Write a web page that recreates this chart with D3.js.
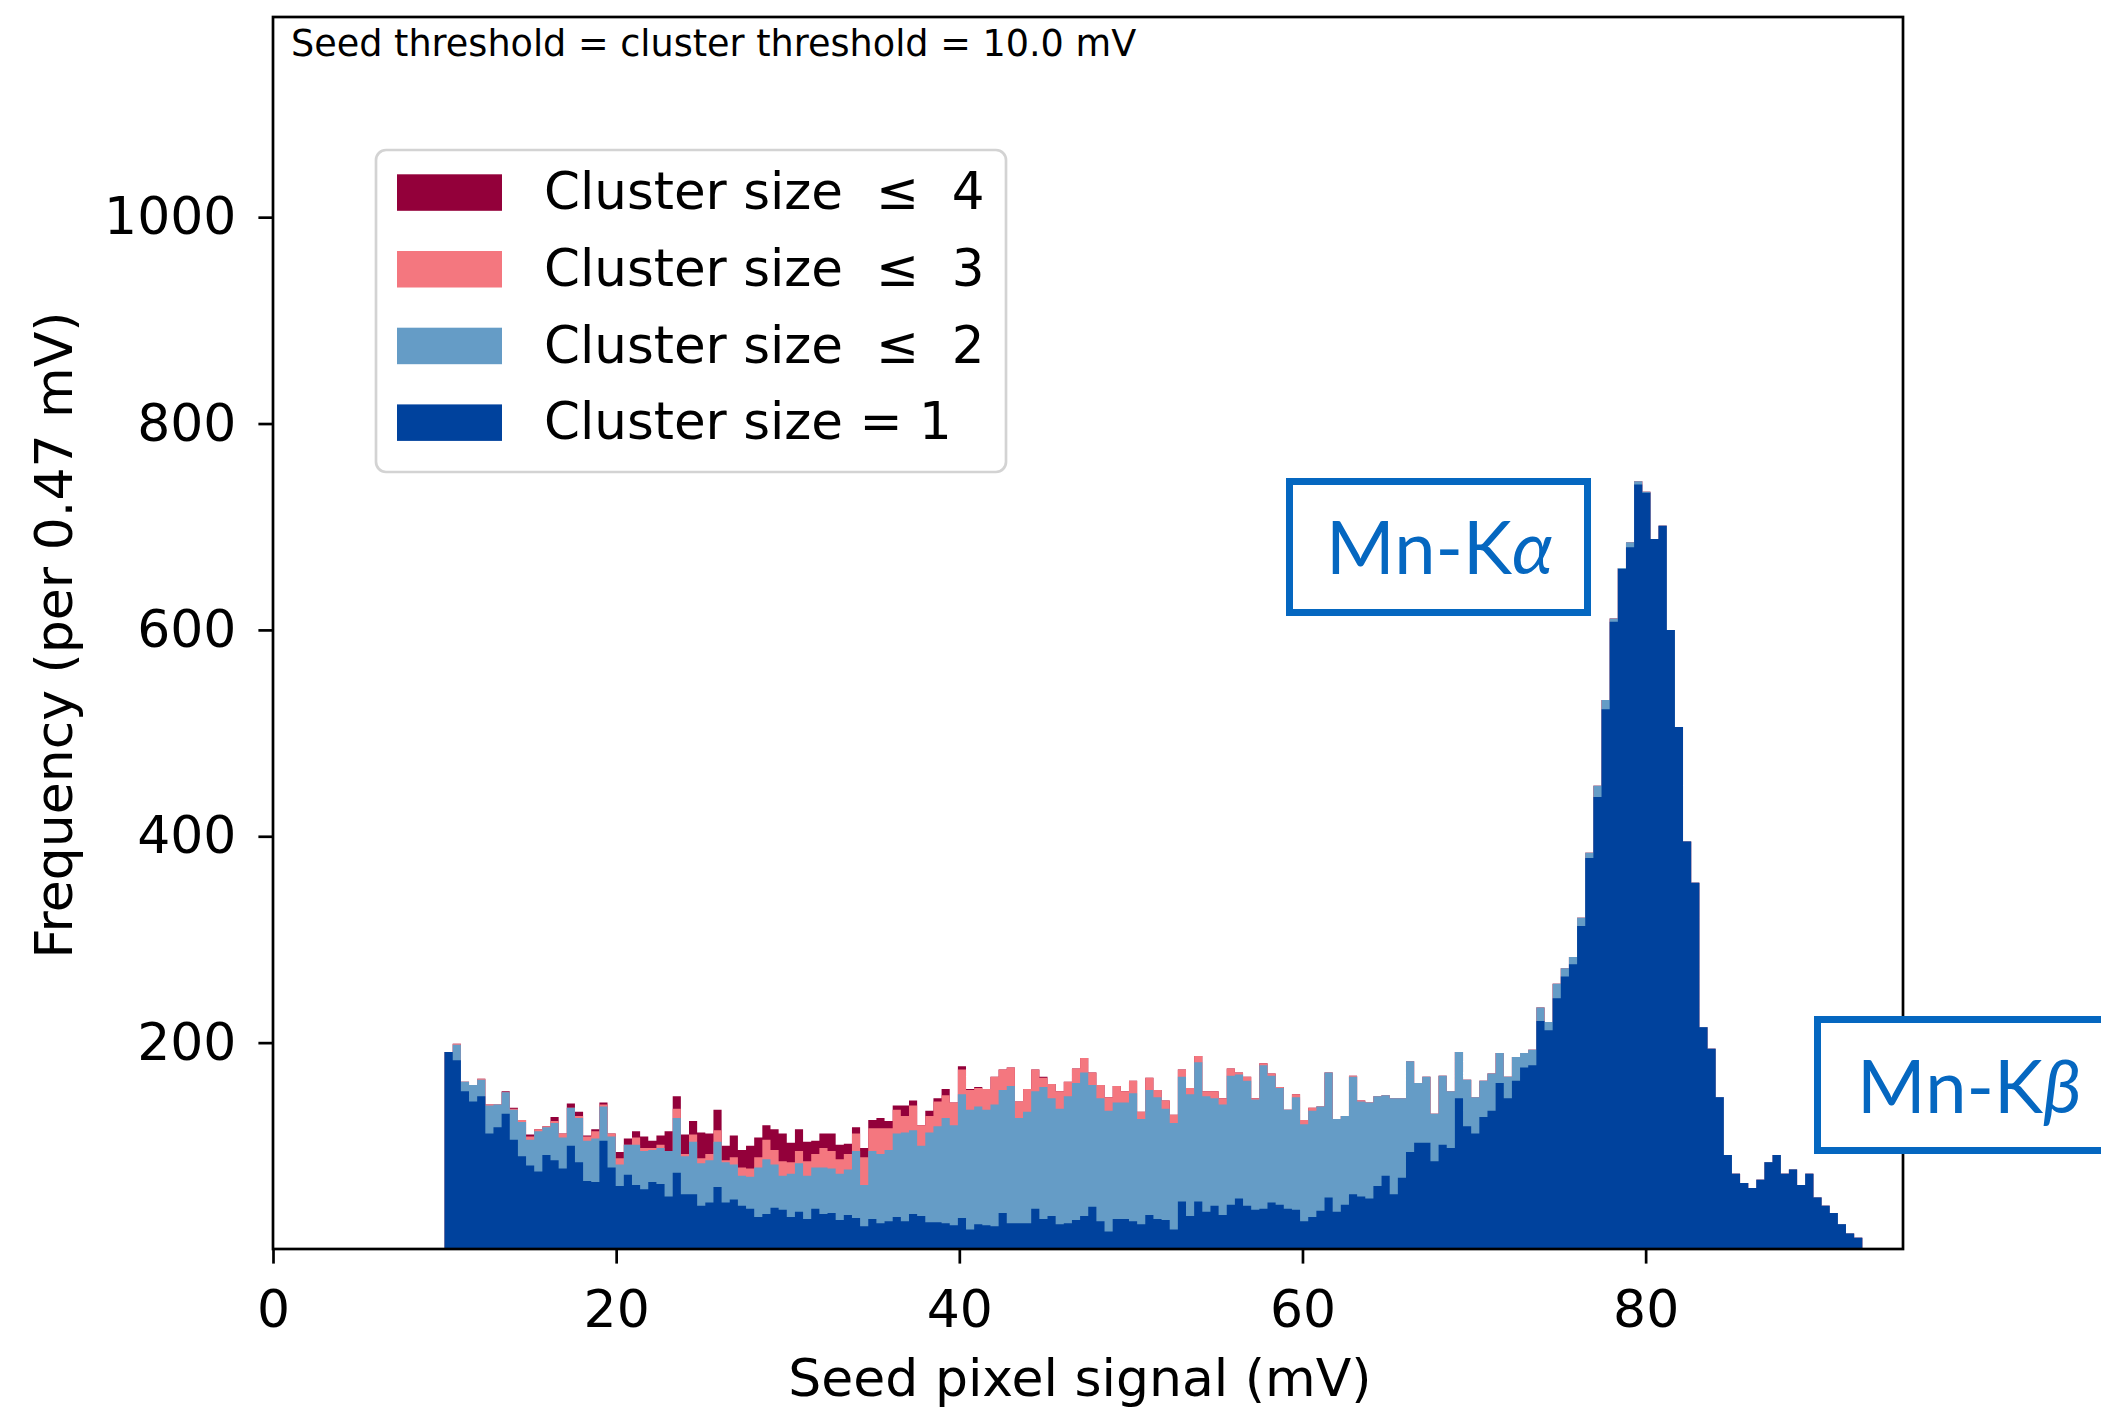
<!DOCTYPE html>
<html>
<head>
<meta charset="utf-8">
<script src="https://cdn.jsdelivr.net/npm/d3@7"></script>
<style>
  body { margin: 0; background: #fff; }
  text { font-family: "DejaVu Sans", sans-serif; }
</style>
</head>
<body>
<div id="chart"></div>
<script>
// Histogram binning (mV): 179 bins between the threshold and 95 mV
const binStart = 10;
const binEnd = 95;
const binCount = 179;

const xTicks = [0, 20, 40, 60, 80];
const yTicks = [200, 400, 600, 800, 1000];

// Counts per bin
const size1 = [
  191,183,153,143,148,112,118,131,106,90,
  81,75,91,86,78,100,84,66,65,105,
  79,61,72,62,58,65,63,51,74,53,
  53,42,45,60,45,48,42,39,31,34,
  40,38,31,36,29,39,34,35,28,33,
  30,22,29,25,27,31,27,34,32,26,
  26,25,23,30,19,24,23,22,35,25,
  25,25,39,29,32,24,25,28,32,41,
  27,17,29,29,27,24,33,29,28,19,
  46,32,46,36,42,33,43,49,42,38,
  39,45,43,39,38,27,31,37,50,36,
  43,53,51,49,61,71,53,69,94,103,
  103,85,101,98,146,119,112,128,134,161,
  146,163,176,178,221,212,243,264,276,313,
  379,438,523,608,659,680,741,733,688,701,
  600,506,395,355,215,194,147,91,73,64,
  59,67,84,91,73,77,62,73,50,42,
  35,24,15,11,1,0,1,0,0
];

const sizeLe2 = [
  191,198,162,159,164,139,140,152,135,123,
  106,114,118,122,108,137,127,105,107,138,
  109,82,101,101,95,96,98,95,127,90,
  104,83,86,104,84,82,71,70,79,87,
  82,71,73,83,71,79,79,78,73,77,
  95,62,95,92,96,112,113,115,100,113,
  119,127,120,150,135,138,135,140,154,158,
  127,133,153,157,146,136,148,161,171,159,
  146,134,142,142,151,126,154,147,136,122,
  167,150,181,148,146,140,168,169,163,145,
  178,168,156,135,147,121,134,138,171,126,
  129,167,143,142,148,149,146,146,182,161,
  167,131,168,153,191,164,147,163,170,190,
  167,186,190,193,234,220,257,272,283,321,
  384,449,532,611,660,685,744,734,688,701,
  600,506,395,355,215,194,147,91,73,64,
  59,67,84,91,73,77,62,73,50,42,
  35,24,15,11,1,0,1,0,0
];

const sizeLe3 = [
  191,199,162,159,165,140,140,152,136,125,
  109,116,119,124,112,137,129,109,114,140,
  112,88,101,108,98,98,101,95,136,92,
  111,88,92,115,86,89,79,78,89,106,
  96,85,84,95,85,92,98,95,87,92,
  112,89,117,117,117,135,129,139,120,129,
  143,149,142,174,154,156,155,167,174,176,
  143,155,174,166,160,153,162,175,185,171,
  159,147,158,153,163,133,166,154,144,130,
  174,156,187,153,153,146,175,171,167,146,
  180,170,157,135,150,125,137,138,171,126,
  129,168,144,142,148,149,146,146,182,161,
  167,131,168,153,191,164,147,163,170,190,
  167,186,190,193,234,220,257,272,283,321,
  384,449,532,611,660,685,744,734,688,701,
  600,506,395,355,215,194,147,91,73,64,
  59,67,84,91,73,77,62,73,50,42,
  35,24,15,11,1,0,1,0,0
];

const sizeLe4 = [
  191,199,162,159,165,140,140,153,137,125,
  111,116,119,128,112,141,133,110,116,142,
  112,94,107,114,109,105,110,114,148,111,
  124,113,112,135,100,110,96,100,108,120,
  116,112,103,116,104,105,112,112,101,102,
  118,98,125,127,124,139,139,144,120,134,
  146,155,142,177,155,157,155,167,174,176,
  143,155,174,167,160,153,162,175,185,171,
  159,147,158,153,163,133,166,154,144,130,
  174,156,187,153,153,146,175,171,167,146,
  180,170,157,135,150,125,137,138,171,126,
  129,168,144,142,148,149,146,146,182,161,
  167,131,168,153,191,164,147,163,170,190,
  167,186,190,193,234,220,257,272,283,321,
  384,449,532,611,660,685,744,734,688,701,
  600,506,395,355,215,194,147,91,73,64,
  59,67,84,91,73,77,62,73,50,42,
  35,24,15,11,1,0,1,0,0
];

// drawn back to front, the legend lists them in the same order
const series = [
  { label: "Cluster size  \u2264  4", color: "#93003a", counts: sizeLe4 },
  { label: "Cluster size  \u2264  3", color: "#f4777f", counts: sizeLe3 },
  { label: "Cluster size  \u2264  2", color: "#659cc6", counts: sizeLe2 },
  { label: "Cluster size = 1", color: "#00429d", counts: size1 }
];

function drawChart() {
    const W = 2101, H = 1414;
    const plot = { left: 273, right: 1903, top: 17, bottom: 1249 };

    const svg = d3.select("#chart").append("svg")
        .attr("width", W)
        .attr("height", H)
        .style("display", "block");

    svg.append("rect").attr("width", W).attr("height", H).attr("fill", "#fff");

    const x = d3.scaleLinear().domain([0, 95]).range([plot.left, plot.right]);
    const y = d3.scaleLinear().domain([0, 1194]).range([plot.bottom, plot.top]);

    const binWidth = (binEnd - binStart) / binCount;
    const area = d3.area()
        .x(d => x(d[0]))
        .y0(y(0))
        .y1(d => y(d[1]))
        .curve(d3.curveStepAfter);

    // one step-filled histogram per series, overlapping
    series.forEach(s => {
        const pts = s.counts.map((c, i) => [binStart + i * binWidth, c]);
        pts.push([binEnd, s.counts[s.counts.length - 1]]);
        svg.append("path")
            .datum(pts)
            .attr("fill", s.color)
            .attr("d", area);
    });

    // axes
    const xAxis = d3.axisBottom(x).tickValues(xTicks).tickSize(14.6).tickPadding(26).tickFormat(d3.format("d"));
    const yAxis = d3.axisLeft(y).tickValues(yTicks).tickSize(14.6).tickPadding(22).tickFormat(d3.format("d"));

    const gx = svg.append("g").attr("transform", `translate(0,${plot.bottom})`).call(xAxis);
    const gy = svg.append("g").attr("transform", `translate(${plot.left},0)`).call(yAxis);
    [gx, gy].forEach(g => {
        g.select(".domain").remove();
        g.selectAll(".tick line").attr("stroke", "#000").attr("stroke-width", 2.7);
        g.selectAll(".tick text")
            .attr("fill", "#000")
            .style("font-family", "'DejaVu Sans', sans-serif")
            .style("font-size", "52px");
    });

    // frame
    svg.append("rect")
        .attr("x", plot.left).attr("y", plot.top)
        .attr("width", plot.right - plot.left).attr("height", plot.bottom - plot.top)
        .attr("fill", "none").attr("stroke", "#000").attr("stroke-width", 2.7);

    // axis labels
    svg.append("text")
        .attr("x", 1080).attr("y", 1396)
        .attr("text-anchor", "middle")
        .style("font-size", "52px")
        .text("Seed pixel signal (mV)");

    svg.append("text")
        .attr("transform", `translate(72,${(plot.top + plot.bottom) / 2 + 2}) rotate(-90)`)
        .attr("text-anchor", "middle")
        .style("font-size", "52px")
        .text("Frequency (per 0.47 mV)");

    // threshold note
    svg.append("text")
        .attr("x", 291).attr("y", 56)
        .style("font-size", "36.6px")
        .text("Seed threshold = cluster threshold = 10.0 mV");

    // legend
    const lg = svg.append("g");
    lg.append("rect")
        .attr("x", 376).attr("y", 150).attr("width", 630).attr("height", 322)
        .attr("rx", 10).attr("ry", 10)
        .attr("fill", "#fff").attr("fill-opacity", 0.8)
        .attr("stroke", "#d3d3d3").attr("stroke-width", 2.7);

    series.forEach((s, i) => {
        const top = 174.3 + i * 76.7;
        lg.append("rect")
            .attr("x", 397).attr("y", top).attr("width", 105).attr("height", 36.5)
            .attr("fill", s.color);
        lg.append("text")
            .attr("x", 544).attr("y", top + 35)
            .style("font-size", "51.5px")
            .style("white-space", "pre")
            .attr("xml:space", "preserve")
            .text(s.label);
    });

    // peak labels
    const blue = "#0567c0";
    const peaks = [
        { name: "\u03b1", bx: 1289.5, by: 481.5, tx: 1326, ty: 574 },
        { name: "\u03b2", bx: 1817.5, by: 1019.5, tx: 1857, ty: 1113 }
    ];
    peaks.forEach(p => {
        svg.append("rect")
            .attr("x", p.bx).attr("y", p.by).attr("width", 298).attr("height", 131)
            .attr("fill", "#fff").attr("stroke", blue).attr("stroke-width", 7);
        const t = svg.append("text")
            .attr("x", p.tx).attr("y", p.ty)
            .attr("fill", blue)
            .style("font-family", "Lato, sans-serif")
            .style("font-size", "74px");
        t.append("tspan").text("Mn-K");
        t.append("tspan").style("font-style", "italic").text(p.name);
    });
}

drawChart();
</script>
</body>
</html>
